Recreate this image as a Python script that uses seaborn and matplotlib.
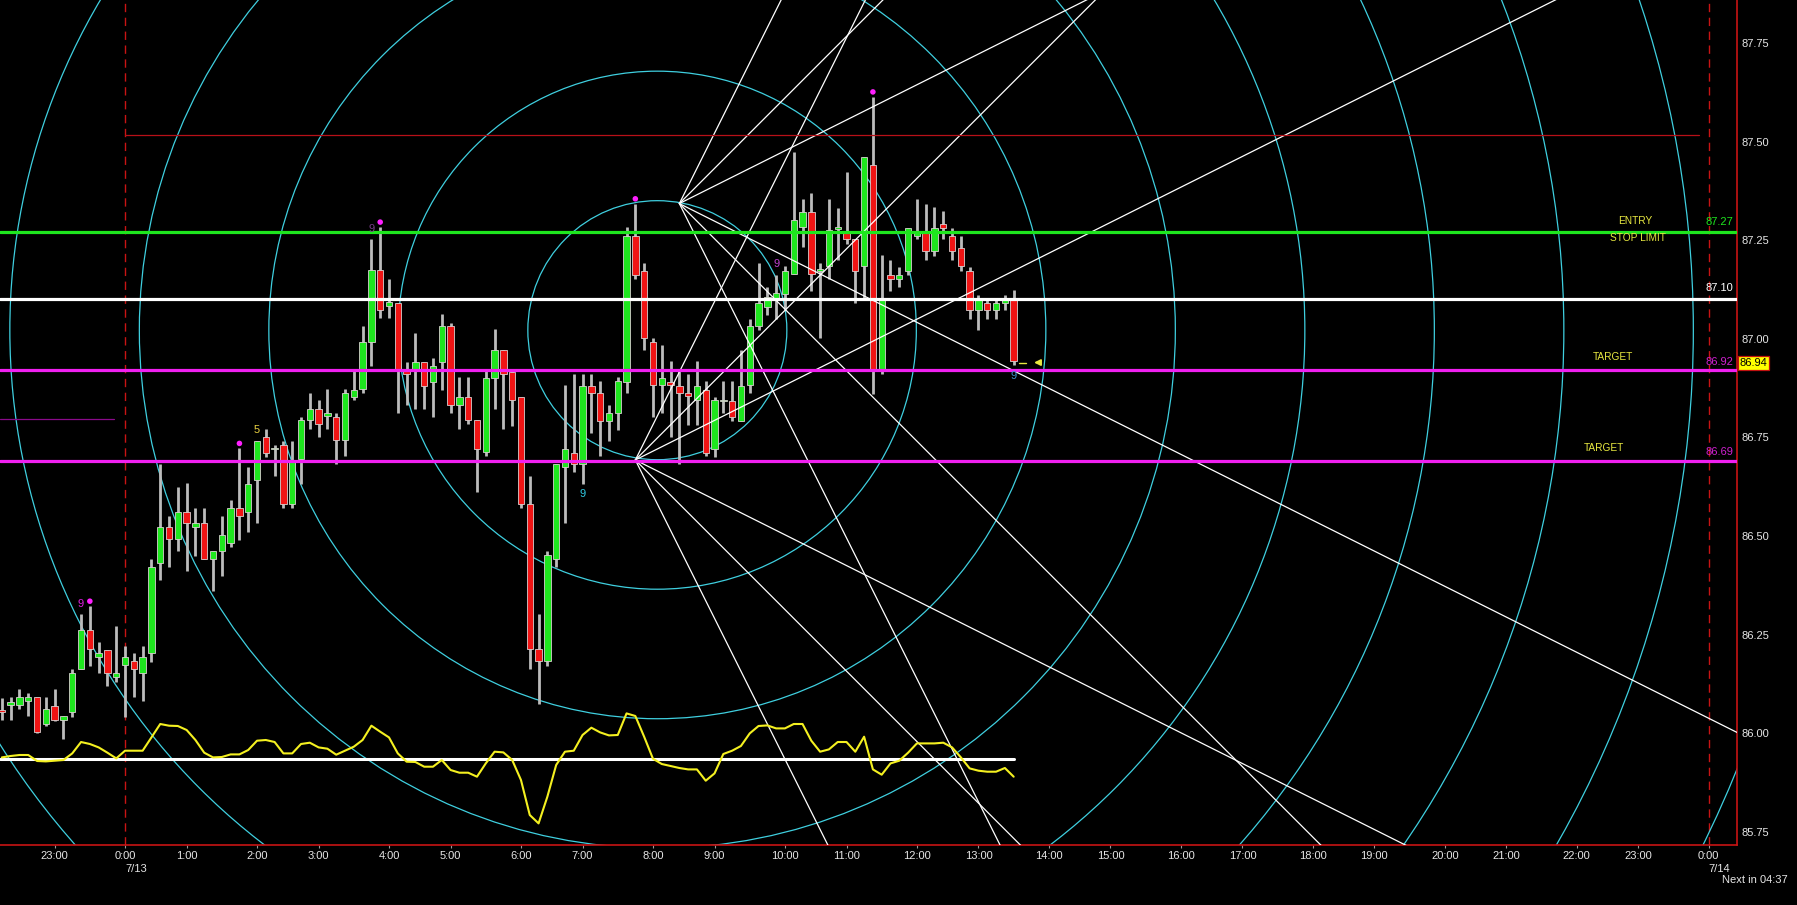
import matplotlib
matplotlib.use("Agg")
import matplotlib.pyplot as plt
import matplotlib.transforms as mtransforms
from matplotlib.patches import Ellipse
import numpy as np
import pandas as pd
import seaborn as sns

# ---------------- data ----------------
first_bar_minute = -108          # minutes after 0:00 7/13 of the first visible candle
bar_minutes = 8

opens = [86.060, 86.072, 86.071, 86.081, 86.092, 86.023, 86.070, 86.033, 86.053, 86.163,
         86.262, 86.193, 86.212, 86.142, 86.173, 86.183, 86.153, 86.203, 86.432, 86.523,
         86.493, 86.562, 86.523, 86.533, 86.442, 86.461, 86.483, 86.571, 86.561, 86.642,
         86.751, 86.720, 86.732, 86.582, 86.696, 86.794, 86.823, 86.804, 86.802, 86.743,
         86.853, 86.872, 86.992, 87.174, 87.083, 87.092, 86.922, 86.922, 86.942, 86.891,
         86.942, 87.032, 86.833, 86.853, 86.794, 86.712, 86.902, 86.973, 86.916, 86.852,
         86.582, 86.214, 86.184, 86.442, 86.675, 86.711, 86.683, 86.880, 86.863, 86.793,
         86.813, 86.890, 87.261, 87.172, 86.992, 86.882, 86.891, 86.880, 86.863, 86.844,
         86.871, 86.721, 86.842, 86.842, 86.793, 86.882, 87.032, 87.081, 87.098, 87.115,
         87.164, 87.284, 87.322, 87.172, 87.184, 87.279, 87.271, 87.252, 87.184, 87.442,
         86.922, 87.163, 87.153, 87.172, 87.262, 87.271, 87.222, 87.290, 87.261, 87.230,
         87.172, 87.072, 87.092, 87.072, 87.092, 87.102]
highs = [86.090, 86.092, 86.112, 86.102, 86.092, 86.092, 86.112, 86.043, 86.163, 86.302,
         86.323, 86.232, 86.212, 86.273, 86.222, 86.203, 86.222, 86.442, 86.683, 86.552,
         86.624, 86.634, 86.571, 86.571, 86.461, 86.552, 86.592, 86.723, 86.675, 86.741,
         86.772, 86.732, 86.741, 86.742, 86.802, 86.864, 86.844, 86.872, 86.813, 86.872,
         86.923, 87.032, 87.252, 87.284, 87.153, 87.092, 86.942, 87.014, 86.942, 86.952,
         87.063, 87.041, 86.904, 86.904, 86.794, 86.921, 87.024, 86.973, 86.922, 86.852,
         86.653, 86.302, 86.463, 86.683, 86.882, 86.912, 86.912, 86.912, 86.892, 86.833,
         86.903, 87.284, 87.343, 87.193, 87.003, 86.984, 86.943, 86.920, 86.912, 86.943,
         86.892, 86.853, 86.892, 86.892, 86.973, 87.051, 87.193, 87.132, 87.163, 87.185,
         87.474, 87.354, 87.371, 87.193, 87.354, 87.333, 87.422, 87.252, 87.461, 87.614,
         87.212, 87.201, 87.182, 87.282, 87.354, 87.343, 87.335, 87.324, 87.282, 87.261,
         87.182, 87.112, 87.102, 87.102, 87.112, 87.123]
lows = [86.035, 86.033, 86.061, 86.043, 86.000, 86.019, 86.032, 85.985, 86.042, 86.163,
        86.171, 86.153, 86.120, 86.131, 86.042, 86.091, 86.081, 86.182, 86.389, 86.421,
        86.463, 86.411, 86.450, 86.442, 86.362, 86.400, 86.472, 86.491, 86.511, 86.532,
        86.700, 86.653, 86.571, 86.571, 86.633, 86.771, 86.751, 86.771, 86.684, 86.703,
        86.844, 86.863, 86.932, 87.052, 87.052, 86.813, 86.833, 86.822, 86.822, 86.802,
        86.870, 86.813, 86.771, 86.783, 86.612, 86.703, 86.822, 86.771, 86.780, 86.571,
        86.163, 86.074, 86.171, 86.421, 86.533, 86.662, 86.633, 86.761, 86.703, 86.741,
        86.770, 86.863, 87.153, 86.973, 86.802, 86.813, 86.751, 86.683, 86.781, 86.781,
        86.703, 86.700, 86.813, 86.793, 86.793, 86.863, 87.023, 87.060, 87.051, 87.075,
        87.164, 87.233, 87.121, 87.003, 87.153, 87.199, 87.241, 87.092, 87.102, 86.861,
        86.912, 87.121, 87.131, 87.161, 87.252, 87.199, 87.210, 87.252, 87.201, 87.172,
        87.051, 87.023, 87.051, 87.051, 87.072, 86.933]
closes = [86.055, 86.080, 86.091, 86.092, 86.004, 86.061, 86.034, 86.043, 86.153, 86.262,
          86.213, 86.203, 86.153, 86.153, 86.193, 86.163, 86.193, 86.422, 86.523, 86.493,
          86.562, 86.533, 86.533, 86.442, 86.461, 86.503, 86.571, 86.551, 86.632, 86.741,
          86.711, 86.721, 86.582, 86.692, 86.794, 86.823, 86.783, 86.813, 86.743, 86.864,
          86.870, 86.992, 87.174, 87.073, 87.093, 86.922, 86.912, 86.942, 86.881, 86.932,
          87.032, 86.833, 86.853, 86.794, 86.722, 86.902, 86.973, 86.912, 86.844, 86.582,
          86.214, 86.184, 86.452, 86.683, 86.721, 86.683, 86.880, 86.863, 86.793, 86.813,
          86.892, 87.261, 87.163, 87.003, 86.882, 86.902, 86.882, 86.863, 86.854, 86.880,
          86.711, 86.844, 86.842, 86.802, 86.880, 87.032, 87.091, 87.106, 87.116, 87.172,
          87.302, 87.322, 87.164, 87.172, 87.275, 87.282, 87.252, 87.172, 87.461, 86.922,
          87.102, 87.153, 87.163, 87.282, 87.271, 87.222, 87.282, 87.280, 87.222, 87.184,
          87.072, 87.102, 87.072, 87.092, 87.102, 86.943]
oscillator = [1.3, 2.7, 3.7, 3.7, -2.3, -2.7, -2.0, -1.3, 5.3, 16.7,
              14.7, 11.3, 6.0, 0.3, 8.0, 8.0, 8.0, 21.3, 34.7, 33.0,
              32.7, 28.7, 18.7, 6.0, 1.3, 1.7, 4.3, 4.3, 8.7, 18.0,
              18.7, 16.7, 5.3, 5.3, 14.7, 16.0, 11.3, 10.0, 4.0, 8.0,
              12.0, 18.7, 33.0, 27.0, 21.3, 5.3, -3.0, -3.3, -8.0, -8.0,
              -1.3, -11.3, -14.0, -14.0, -18.0, -4.7, 7.0, 6.3, -1.3, -21.3,
              -56.3, -64.7, -38.0, -6.3, 7.0, 8.0, 23.7, 31.0, 26.3, 23.3,
              23.7, 45.3, 42.7, 22.0, 0.0, -5.3, -7.3, -9.3, -10.7, -10.7,
              -22.0, -14.7, 4.7, 8.0, 12.7, 25.3, 32.7, 33.3, 30.3, 30.3,
              34.7, 34.7, 18.0, 7.0, 9.3, 16.7, 16.7, 7.0, 22.0, -10.7,
              -16.0, -4.7, -2.0, 6.0, 15.3, 15.3, 15.3, 16.0, 11.3, 1.3,
              -9.7, -12.0, -13.0, -13.0, -9.3, -18.0]

# bar indices (0 = first visible candle) with a swing-high dot
swing_high_bars = [10, 27, 43, 72, 99]
# sequential-count labels: (bar index, text, above/below, colour)
count_labels = [(9, "9", "above", "#e020e0"), (29, "5", "above", "#e8d040"),
                (42, "9", "above", "#7a3d8a"), (66, "9", "below", "#30c8e0"),
                (88, "9", "above", "#c040d0"), (115, "9", "below", "#3a90c8")]

# horizontal trade levels
entry_level = 87.27
pivot_level = 87.10
target_levels = [86.92, 86.69]
upper_red_level = 87.516
upper_red_span = (4, 1435)
left_purple_level = 86.796
left_purple_span = (-110, -6)
current_price = 86.94

# Gann circles and fans
circle_center_time = 488.0
circle_center_price = 87.022
circle_step_time = 117.75
circle_step_price = 0.3283
circle_count = 10
fan_origin_times = [508.0, 468.0]
fan_origin_prices = [87.343, 86.693]
fan_ratios = [2.0, 1.0, 0.5]
fan_unit = 0.002788          # price per minute of the 1x1 line

hours = list(range(-1, 25))
date_marks = {0: "7/13", 24: "7/14"}
y_ticks = [85.75, 86.00, 86.25, 86.50, 86.75, 87.00, 87.25, 87.50, 87.75]
x_limits = (-109.7, 1469.7)
y_limits = (85.717, 87.859)

# ---------------- style ----------------
sns.set_theme(style="dark")
plt.rcParams["font.family"] = ["Liberation Sans", "DejaVu Sans"]

BG = "#000000"
GREEN = "#1ee61e"
RED = "#f01414"
MAGENTA = "#f020f0"
CYAN = "#3fcfdf"
YELLOW = "#e8e840"
AXRED = "#c81414"
TXT = "#e6e6e6"

df = pd.DataFrame({"open": opens, "high": highs, "low": lows, "close": closes,
                   "osc": oscillator})
df["t"] = first_bar_minute + bar_minutes * np.arange(len(df))
df["up"] = df["close"] >= df["open"]

W, H = 1797, 905
fig = plt.figure(figsize=(W / 100, H / 100), dpi=100, facecolor=BG)
ax = fig.add_axes([0, 1 - 845 / H, 1737 / W, 845 / H])
ax.set_facecolor(BG)
ax.set_xlim(*x_limits)
ax.set_ylim(*y_limits)
ax.grid(False)

# Gann circles
for n in range(1, circle_count + 1):
    ax.add_patch(Ellipse((circle_center_time, circle_center_price),
                         width=2 * n * circle_step_time, height=2 * n * circle_step_price,
                         fill=False, ec=CYAN, lw=0.9, zorder=2))

# candles
ax.vlines(df["t"], df["low"], df["high"], color="#bcbcbc", lw=2.0, zorder=3)
body_bottom = np.minimum(df["open"], df["close"])
body_height = np.maximum(np.abs(df["close"] - df["open"]), 0.004)
ax.bar(df["t"], body_height, bottom=body_bottom, width=5.8,
       color=np.where(df["up"], GREEN, RED), edgecolor="#d8d0d0", lw=0.6, zorder=4)

# Gann fans
reach = 3000.0
for t0, p0 in zip(fan_origin_times, fan_origin_prices):
    for r in fan_ratios:
        for sgn in (1, -1):
            ax.plot([t0, t0 + reach], [p0, p0 + sgn * r * fan_unit * reach],
                    color="white", lw=0.9, zorder=5)

# horizontal lines
ax.plot(upper_red_span, [upper_red_level] * 2, color="#b81018", lw=0.9, zorder=5)
ax.plot(left_purple_span, [left_purple_level] * 2, color="#8a0a8a", lw=0.9, zorder=5)
ax.axhline(entry_level, color=GREEN, lw=2.3, zorder=6)
ax.axhline(pivot_level, color="white", lw=2.3, zorder=6)
for lv in target_levels:
    ax.axhline(lv, color=MAGENTA, lw=2.3, zorder=6)

# midnight separators
tick_pos = [first_bar_minute + bar_minutes * np.ceil((60 * h - first_bar_minute) / bar_minutes)
            for h in hours]
for h, tp in zip(hours, tick_pos):
    if h in date_marks:
        ax.axvline(tp, color=AXRED, lw=1.0, ls=(0, (6, 4)), zorder=1)

# swing dots and count labels
sns.scatterplot(x=df["t"].iloc[swing_high_bars], y=df["high"].iloc[swing_high_bars] + 0.012,
                color="#ff20ff", s=16, edgecolor="none", ax=ax, zorder=8, legend=False)
for idx, txt, pos, col in count_labels:
    y = df["high"].iloc[idx] + 0.027 if pos == "above" else df["low"].iloc[idx] - 0.027
    ax.text(df["t"].iloc[idx], y, txt, color=col, fontsize=8, ha="center", va="center", zorder=8)

# current price marker beside the last candle
last_t = df["t"].iloc[-1]
ax.plot([last_t + 5, last_t + 11], [current_price] * 2, color=YELLOW, lw=1.0, zorder=8)
ax.annotate("", xy=(last_t + 16, current_price), xytext=(last_t + 26, current_price),
            arrowprops=dict(arrowstyle="-|>", color=YELLOW, lw=1.3, mutation_scale=9), zorder=8)

# right-hand level labels
bt = mtransforms.blended_transform_factory(ax.transAxes, ax.transData)
ax.text(0.998, entry_level + 0.026, f"{entry_level:.2f}", color=GREEN, fontsize=8,
        ha="right", va="center", transform=bt, zorder=8)
ax.text(0.998, pivot_level + 0.030, f"{pivot_level:.2f}", color="white", fontsize=8,
        ha="right", va="center", transform=bt, zorder=8)
for lv in target_levels:
    ax.text(0.998, lv + 0.022, f"{lv:.2f}", color="#d020d0", fontsize=8,
            ha="right", va="center", transform=bt, zorder=8)
ax.text(1377, entry_level + 0.029, "ENTRY", color=YELLOW, fontsize=7.3, ha="center",
        va="center", zorder=8)
ax.text(1380, entry_level - 0.015, "STOP LIMIT", color=YELLOW, fontsize=7.3, ha="center",
        va="center", zorder=8)
for lv, xt in zip(target_levels, [1357, 1349]):
    ax.text(xt, lv + 0.033, "TARGET", color=YELLOW, fontsize=7.3, ha="center",
            va="center", zorder=8)
ax.text(1.0015, current_price, f"{current_price:.2f}", color="black", fontsize=8,
        ha="left", va="center", transform=bt, clip_on=False, zorder=9,
        bbox=dict(boxstyle="square,pad=0.18", fc="#ffff00", ec="#c01010", lw=0.9))

# oscillator panel on a twin axis
ax2 = ax.twinx()
ax2.set_ylim(-86.3, 758.7)
ax2.set_axis_off()
ax2.plot([x_limits[0], last_t], [0, 0], color="white", lw=2.2, zorder=3)
sns.lineplot(x=df["t"], y=df["osc"], ax=ax2, color="#f4f020", lw=1.5, zorder=4)
ax2.set_xlim(*x_limits)

# axes / ticks
for s in ["left", "top"]:
    ax.spines[s].set_visible(False)
for s in ["right", "bottom"]:
    ax.spines[s].set_color(AXRED)
    ax.spines[s].set_linewidth(1.2)
    ax.spines[s].set_visible(True)
ax.yaxis.tick_right()
ax.set_yticks(y_ticks)
ax.set_yticklabels([f"{v:.2f}" for v in y_ticks])
ax.tick_params(axis="y", length=0, pad=3, labelcolor=TXT, labelsize=8)
ax.set_xticks(tick_pos)
ax.set_xticklabels([f"{h % 24}:00" for h in hours])
ax.tick_params(axis="x", length=2.5, width=0.8, color="#9a9a9a", pad=2,
               labelcolor=TXT, labelsize=8, bottom=True)
ax.set_xlabel("")
ax.set_ylabel("")
bx = mtransforms.blended_transform_factory(ax.transData, ax.transAxes)
for h, tp in zip(hours, tick_pos):
    if h in date_marks:
        ax.text(tp, -0.0285, date_marks[h], color=TXT, fontsize=8, ha="left",
                va="center", transform=bx, clip_on=False)
fig.text(0.995, 1 - 880 / H, "Next in 04:37", color=TXT, fontsize=8, ha="right", va="center")

fig.savefig("out.png", dpi=100, facecolor=BG)
